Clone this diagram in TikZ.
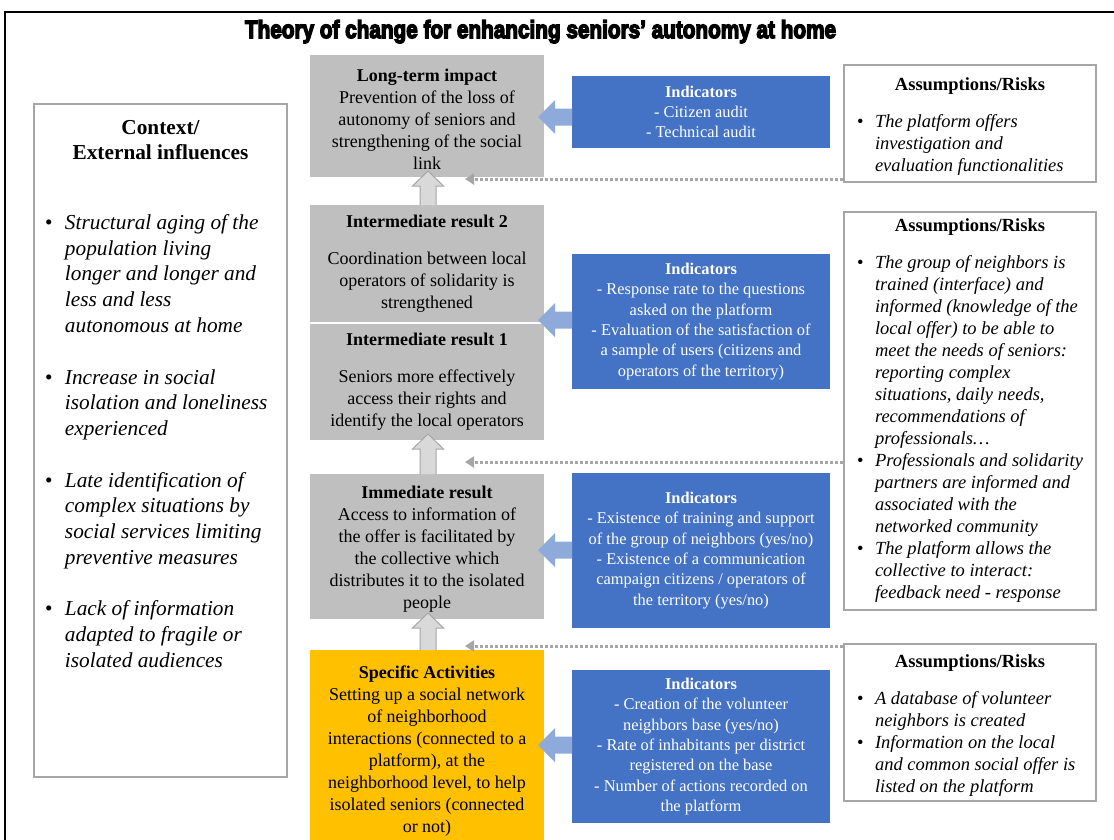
\documentclass[tikz,border=0pt]{standalone}
\usepackage{fontspec}
\setmainfont{Liberation Serif}
\newfontfamily\titlefont{Liberation Sans}[UprightFont={* Bold},UprightFeatures={FakeBold=6}]
\usepackage{graphicx}
\usepackage{array}
\usetikzlibrary{arrows.meta}
\definecolor{boxgray}{HTML}{BFBFBF}
\definecolor{gold}{HTML}{FFC000}
\definecolor{indblue}{HTML}{4472C4}
\definecolor{arrblue}{HTML}{8EAADB}
\definecolor{bordgray}{HTML}{A6A6A6}
\definecolor{upgray}{HTML}{D9D9D9}
\newcommand\fcen{\fontsize{18}{22}\selectfont}
\newcommand\find{\fontsize{16.4}{20.3}\selectfont}
\newcommand\fass{\fontsize{18.5}{22}\selectfont}
\newcommand\fctx{\fontsize{21.3}{25.7}\selectfont}
\newcommand\blt[1]{\makebox[#1][l]{\textbullet}}
\newcommand\lift{\rule{0pt}{18.4pt}}
\newcommand\liftb{\rule{0pt}{21.4pt}}
\newcommand\blockup[3]{%
  \fill[upgray] (#1-8,#2) -- (#1-8,#3+15) -- (#1-15.5,#3+15) -- (#1,#3) -- (#1+15.5,#3+15) -- (#1+8,#3+15) -- (#1+8,#2) -- cycle;
  \draw[bordgray, line width=1pt, line join=miter] (#1-8,#2) -- (#1-8,#3+15) -- (#1-15.5,#3+15) -- (#1,#3) -- (#1+15.5,#3+15) -- (#1+8,#3+15) -- (#1+8,#2);}
\newcommand\blockleft[1]{%
  \fill[arrblue] (572,#1-8.5) -- (555,#1-8.5) -- (555,#1-17) -- (538,#1) -- (555,#1+17) -- (555,#1+8.5) -- (572,#1+8.5) -- cycle;}
\tikzset{
  cbox/.style={fill=boxgray, inner sep=0pt, align=center, font=\fcen, minimum width=234pt},
  ibox/.style={fill=indblue, text=white, inner sep=0pt, align=center, font=\find, minimum width=258pt},
  abox/.style={fill=white, draw=bordgray, line width=2pt, inner sep=0pt, font=\fass, minimum width=252pt},
  dotarr/.style={draw=bordgray, line width=3pt, dash pattern=on 3pt off 2pt, -{Triangle[length=9pt,width=11pt]}},
}
\begin{document}
\begin{tikzpicture}[x=1pt,y=-1pt]
\useasboundingbox (0,0) rectangle (1114,839);
\clip (0,0) rectangle (1114,839);
\fill[white] (0,0) rectangle (1114,839);
\draw[line width=2pt] (5,845) -- (5,12) -- (1120,12);
\node[anchor=base, inner sep=0pt] (title) at (540.5,38) {\resizebox{591pt}{18pt}{\titlefont Theory of change for enhancing seniors’ autonomy at home}};

% context
\node[draw=bordgray, line width=2pt, fill=white, minimum width=253pt, minimum height=673pt, inner sep=0pt] (CTX) at (160.5,440.5) {};
\node[anchor=north, inner sep=0pt, font=\fctx] (ctxt) at (160.5,116) {%
\begin{tabular}{@{}l@{}>{\itshape}l@{}}
\multicolumn{2}{@{}c@{}}{\makebox[231pt]{\bfseries Context/}}\\
\multicolumn{2}{@{}c@{}}{\makebox[231pt]{\bfseries External influences}}\\[44pt]
\blt{20pt} & Structural aging of the\\
 & population living\\
 & longer and longer and\\
 & less and less\\
 & autonomous at home\\[26pt]
\blt{20pt} & Increase in social\\
 & isolation and loneliness\\
 & experienced\\[26pt]
\blt{20pt} & Late identification of\\
 & complex situations by\\
 & social services limiting\\
 & preventive measures\\[26pt]
\blt{20pt} & Lack of information\\
 & adapted to fragile or\\
 & isolated audiences
\end{tabular}};

% central column
\node[cbox, minimum height=122pt] (LT) at (427,116) {\lift\textbf{Long-term impact}\\Prevention of the loss of\\autonomy of seniors and\\strengthening of the social\\link};
\node[cbox, minimum height=117pt] (IR2) at (427,263.5) {\textbf{Intermediate result 2}\\[15pt]Coordination between local\\operators of solidarity is\\strengthened};
\node[cbox, minimum height=116.5pt] (IR1) at (427,381.75) {\textbf{Intermediate result 1}\\[15pt]Seniors more effectively\\access their rights and\\identify the local operators};
\node[cbox, minimum height=145pt] (IMM) at (427,546.5) {\lift\textbf{Immediate result}\\Access to information of\\the offer is facilitated by\\the collective which\\distributes it to the isolated\\people};
\node[cbox, fill=gold, minimum height=196pt] (SA) at (427,748) {\lift\textbf{Specific Activities}\\Setting up a social network\\of neighborhood\\interactions (connected to a\\platform), at the\\neighborhood level, to help\\isolated seniors (connected\\or not)};

\blockup{428}{205}{171}
\blockup{428}{474}{434}
\blockup{428}{650}{613}

% indicators
\node[ibox, minimum height=72pt] (I1) at (701,112) {\textbf{Indicators}\\- Citizen audit\\- Technical audit};
\node[ibox, minimum height=135pt] (I2) at (701,321.5) {\textbf{Indicators}\\- Response rate to the questions\\asked on the platform\\- Evaluation of the satisfaction of\\a sample of users (citizens and\\operators of the territory)};
\node[ibox, minimum height=155pt] (I3) at (701,550.5) {\textbf{Indicators}\\- Existence of training and support\\of the group of neighbors (yes/no)\\- Existence of a communication\\campaign citizens / operators of\\the territory (yes/no)};
\node[ibox, minimum height=153pt] (I4) at (701,746.5) {\textbf{Indicators}\\- Creation of the volunteer\\neighbors base (yes/no)\\- Rate of inhabitants per district\\registered on the base\\- Number of actions recorded on\\the platform};

\blockleft{117}
\blockleft{320}
\blockleft{550}
\blockleft{745}

% assumptions
\node[abox, minimum height=117pt] (A1) at (970,123.5) {%
\begin{tabular}{@{}l@{}>{\itshape}l@{}}
\multicolumn{2}{@{}c@{}}{\liftb\makebox[226pt]{\bfseries Assumptions/Risks}}\\[15pt]
\blt{18pt} & The platform offers\\
 & investigation and\\
 & evaluation functionalities
\end{tabular}};
\node[abox, minimum height=398pt] (A2) at (970,411) {%
\begin{tabular}{@{}l@{}>{\itshape}l@{}}
\multicolumn{2}{@{}c@{}}{\makebox[226pt]{\bfseries Assumptions/Risks}}\\[15pt]
\blt{18pt} & The group of neighbors is\\
 & trained (interface) and\\
 & informed (knowledge of the\\
 & local offer) to be able to\\
 & meet the needs of seniors:\\
 & reporting complex\\
 & situations, daily needs,\\
 & recommendations of\\
 & professionals…\\
\blt{18pt} & Professionals and solidarity\\
 & partners are informed and\\
 & associated with the\\
 & networked community\\
\blt{18pt} & The platform allows the\\
 & collective to interact:\\
 & feedback need - response
\end{tabular}};
\node[abox, minimum height=157pt] (A3) at (970,722.5) {%
\begin{tabular}{@{}l@{}>{\itshape}l@{}}
\multicolumn{2}{@{}c@{}}{\liftb\makebox[226pt]{\bfseries Assumptions/Risks}}\\[15pt]
\blt{18pt} & A database of volunteer\\
 & neighbors is created\\
\blt{18pt} & Information on the local\\
 & and common social offer is\\
 & listed on the platform
\end{tabular}};

\coordinate (d1) at (465,179);
\coordinate (d2) at (465,462);
\coordinate (d3) at (465,646);
\draw[dotarr] (A1.west |- d1) -- (d1);
\draw[dotarr] (A2.west |- d2) -- (d2);
\draw[dotarr] (A3.west |- d3) -- (d3);
\end{tikzpicture}
\end{document}
